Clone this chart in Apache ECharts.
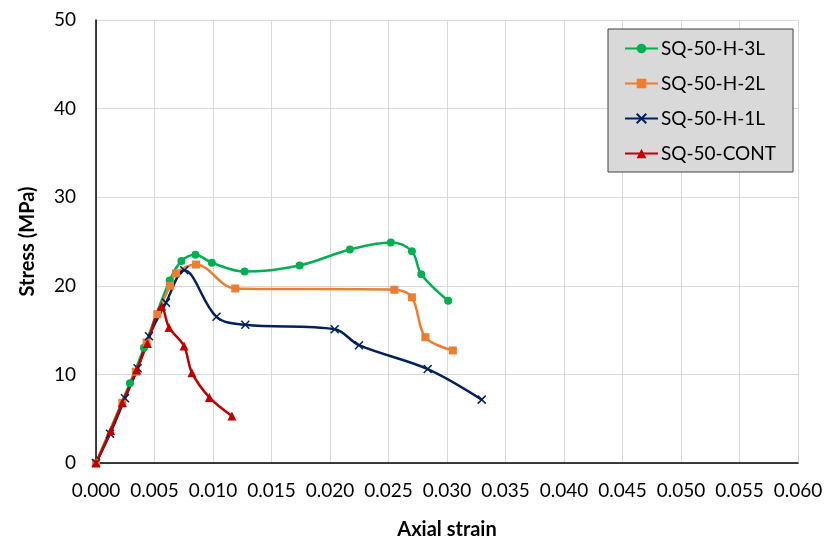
<!DOCTYPE html>
<html>
<head>
<meta charset="utf-8">
<script src="https://cdn.jsdelivr.net/npm/echarts@6/dist/echarts.min.js"></script>
<style>
  html, body { margin: 0; padding: 0; background: #fff; }
  #chart { width: 828px; height: 545px; }
</style>
</head>
<body>
<div id="chart"></div>
<script>
// Axial strain (x) and stress in MPa (y) for each specimen
var strain3L = [0, 0.0029, 0.0041, 0.0063, 0.0073, 0.0085, 0.0099, 0.0127, 0.0174, 0.0217, 0.0252, 0.0270, 0.0278, 0.0301];
var stress3L = [0, 9.0, 13.0, 20.6, 22.8, 23.5, 22.6, 21.6, 22.3, 24.1, 24.9, 23.9, 21.3, 18.3];

var strain2L = [0, 0.00225, 0.0034, 0.00433, 0.00524, 0.00632, 0.00684, 0.00855, 0.0119, 0.0255, 0.0270, 0.02815, 0.0305];
var stress2L = [0, 6.8, 10.3, 13.6, 16.8, 20.0, 21.4, 22.4, 19.7, 19.55, 18.7, 14.2, 12.7];

var strain1L = [0, 0.0012, 0.00248, 0.00356, 0.00453, 0.00598, 0.00755, 0.0103, 0.01276, 0.0204, 0.02248, 0.02835, 0.03297];
var stress1L = [0, 3.3, 7.3, 10.7, 14.3, 18.1, 21.75, 16.5, 15.6, 15.1, 13.3, 10.6, 7.15];

var strainCont = [0, 0.00126, 0.00225, 0.00348, 0.00439, 0.00561, 0.00624, 0.00752, 0.0082, 0.00969, 0.01162];
var stressCont = [0, 3.65, 6.8, 10.5, 13.5, 17.7, 15.3, 13.2, 10.2, 7.4, 5.3];

var seriesNames = ['SQ-50-H-3L', 'SQ-50-H-2L', 'SQ-50-H-1L', 'SQ-50-CONT'];

function pairs(xs, ys) {
  return xs.map(function (x, i) { return [x, ys[i]]; });
}

var FONT = 'Lato, "Open Sans", sans-serif';
var crossPath = 'path://M0,0L10,10M10,0L0,10';

function lineSeries(name, xs, ys, color, symbol, size, extra) {
  var s = {
    name: name,
    type: 'line',
    data: pairs(xs, ys),
    smooth: 0.35,
    symbol: symbol,
    symbolSize: size,
    showAllSymbol: true,
    lineStyle: { color: color, width: 2.5 },
    itemStyle: { color: color },
    emphasis: { disabled: true },
    z: 2
  };
  if (extra) { for (var k in extra) s[k] = extra[k]; }
  return s;
}

var chart = echarts.init(document.getElementById('chart'), null, { renderer: 'canvas' });

chart.setOption({
  animation: false,
  backgroundColor: '#ffffff',
  grid: { left: 96, right: 30, top: 20, bottom: 79, containLabel: false },
  legend: {
    orient: 'vertical',
    left: 608,
    top: 29,
    data: seriesNames,
    itemWidth: 33,
    itemHeight: 12,
    itemGap: 16,
    padding: [10, 17, 9, 16],
    backgroundColor: '#d9d9d9',
    borderColor: '#404040',
    borderWidth: 1,
    textStyle: { fontFamily: FONT, fontSize: 19, color: '#000', padding: [0, 0, 0, -2] }
  },
  xAxis: {
    type: 'value',
    min: 0,
    max: 0.06,
    interval: 0.005,
    name: 'Axial strain',
    nameLocation: 'middle',
    nameGap: 57,
    nameTextStyle: { fontFamily: FONT, fontSize: 20, fontWeight: 'bold', color: '#000' },
    axisLine: { show: true, onZero: false, lineStyle: { color: '#000', width: 1.5 } },
    axisTick: { show: false },
    axisLabel: {
      fontFamily: FONT, fontSize: 19, color: '#000', margin: 18,
      formatter: function (v) { return v.toFixed(3); }
    },
    splitLine: { show: true, lineStyle: { color: '#d9d9d9', width: 1 } }
  },
  yAxis: {
    type: 'value',
    min: 0,
    max: 50,
    interval: 10,
    name: 'Stress (MPa)',
    nameLocation: 'middle',
    nameGap: 58,
    nameTextStyle: { fontFamily: FONT, fontSize: 20, fontWeight: 'bold', color: '#000' },
    axisLine: { show: true, onZero: false, lineStyle: { color: '#000', width: 1.5 } },
    axisTick: { show: false },
    axisLabel: { fontFamily: FONT, fontSize: 19, color: '#000', margin: 20 },
    splitLine: { show: true, lineStyle: { color: '#d9d9d9', width: 1 } }
  },
  series: [
    lineSeries(seriesNames[0], strain3L, stress3L, '#00b050', 'circle', 8),
    lineSeries(seriesNames[1], strain2L, stress2L, '#ed7d31', 'rect', 8),
    lineSeries(seriesNames[2], strain1L, stress1L, '#002060', crossPath, 8, {
      itemStyle: { color: '#002060', borderColor: '#002060', borderWidth: 1.5 }
    }),
    lineSeries(seriesNames[3], strainCont, stressCont, '#c00000', 'triangle', 9)
  ]
});
</script>
</body>
</html>
